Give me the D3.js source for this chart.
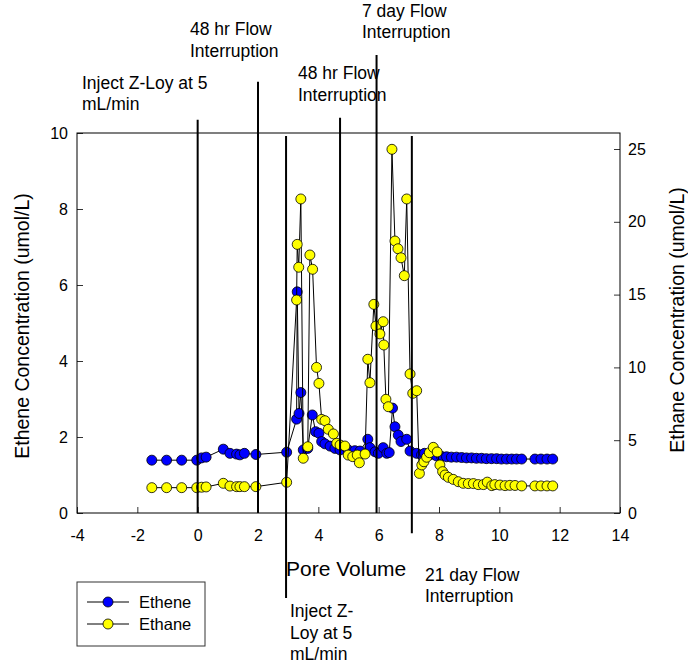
<!DOCTYPE html>
<html>
<head>
<meta charset="utf-8">
<script src="https://cdn.jsdelivr.net/npm/d3@7"></script>
<style>
  body { margin: 0; background: #fff; }
  text { font-family: "Liberation Sans", Arial, sans-serif; }
</style>
</head>
<body>
<div id="chart"></div>
<script>
// pore volume + concentrations
const etheneX = [-1.52, -1.03, -0.53, -0.03, 0.13, 0.28, 0.85, 1.07, 1.29, 1.40, 1.55, 1.93, 2.95,
  3.28, 3.30, 3.36, 3.42, 3.50, 3.65, 3.80, 3.91, 4.02, 4.11, 4.22, 4.39, 4.55, 4.72, 4.99, 5.21, 5.38,
  5.64, 5.71, 5.88, 5.99, 6.15, 6.27, 6.35, 6.46, 6.54, 6.65, 6.74, 6.93, 7.04, 7.26, 7.42, 7.52, 7.70,
  7.92, 8.08, 8.25, 8.41, 8.58, 8.75, 8.91, 9.08, 9.24, 9.41, 9.57, 9.74, 9.91, 10.07, 10.24, 10.41, 10.57, 10.74,
  11.18, 11.38, 11.58, 11.77];
const etheneY = [1.39, 1.39, 1.39, 1.39, 1.45, 1.47, 1.68, 1.57, 1.55, 1.53, 1.57, 1.54, 1.60,
  2.47, 5.82, 2.62, 3.17, 1.66, 1.70, 2.58, 2.14, 2.10, 1.88, 1.82, 1.76, 1.70, 1.66, 1.66, 1.64, 1.63,
  1.94, 1.72, 1.61, 1.57, 1.72, 1.57, 1.59, 2.76, 2.27, 2.05, 1.88, 1.94, 1.63, 1.57, 1.53, 1.57, 1.53,
  1.50, 1.49, 1.48, 1.47, 1.47, 1.46, 1.45, 1.45, 1.44, 1.44, 1.43, 1.43, 1.43, 1.42, 1.42, 1.42, 1.42, 1.42,
  1.42, 1.42, 1.42, 1.42];

const ethaneX = [-1.52, -1.03, -0.53, -0.03, 0.13, 0.28, 0.85, 1.07, 1.29, 1.40, 1.55, 1.93, 2.95,
  3.28, 3.30, 3.35, 3.42, 3.50, 3.65, 3.72, 3.81, 3.94, 4.02, 4.11, 4.22, 4.33, 4.50, 4.61, 4.72, 4.88,
  4.99, 5.14, 5.29, 5.36, 5.55, 5.64, 5.71, 5.84, 5.91, 6.04, 6.15, 6.17, 6.24, 6.32, 6.44, 6.54, 6.64,
  6.74, 6.85, 6.93, 7.04, 7.13, 7.26, 7.35, 7.43, 7.50, 7.59, 7.68, 7.81, 7.94, 8.03, 8.12, 8.20, 8.31,
  8.47, 8.64, 8.80, 8.97, 9.14, 9.30, 9.47, 9.60, 9.75, 9.85, 10.02, 10.19, 10.35, 10.52, 10.74,
  11.18, 11.38, 11.58, 11.77];
const ethaneY = [1.74, 1.74, 1.74, 1.74, 1.77, 1.79, 2.04, 1.85, 1.81, 1.81, 1.81, 1.81, 2.11,
  14.63, 18.45, 16.88, 21.57, 3.76, 4.55, 17.72, 16.74, 10.0, 8.9, 6.43, 6.34, 5.75, 5.43, 4.79, 4.67, 4.60,
  3.98, 3.87, 3.98, 3.45, 4.05, 10.56, 8.95, 14.33, 12.84, 12.3, 13.14, 11.54, 7.81, 7.30, 24.98, 18.68, 18.15,
  17.53, 16.3, 21.57, 9.55, 8.22, 8.4, 2.72, 3.30, 3.52, 3.83, 4.14, 4.51, 4.19, 3.30, 2.84, 2.61, 2.45,
  2.31, 2.15, 2.04, 2.02, 2.02, 1.95, 1.95, 2.12, 1.88, 1.95, 1.92, 1.88, 1.90, 1.89, 1.86,
  1.86, 1.86, 1.86, 1.86];

const xTicks = [-4, -2, 0, 2, 4, 6, 8, 10, 12, 14];
const leftTicks = [0, 2, 4, 6, 8, 10];
const rightTicks = [0, 5, 10, 15, 20, 25];

// event markers (pore volume) and their labels
const eventX = [0, 2, 2.93, 4.72, 5.93, 7.1];
const eventTop = [10.35, 11.35, 9.92, 10.4, 12.05, 9.92];   // in ethene units
const eventBottom = [0, 0, -2.24, 0, 0, -0.53];
const notes = [
  { x: 82, y: 88.5, lines: ["Inject Z-Loy at 5", "mL/min"] },
  { x: 190, y: 35, lines: ["48 hr Flow", "Interruption"] },
  { x: 298, y: 79, lines: ["48 hr Flow", "Interruption"] },
  { x: 362, y: 16.5, lines: ["7 day Flow", "Interruption"] },
  { x: 425, y: 580.5, lines: ["21 day Flow", "Interruption"] },
  { x: 290, y: 617, lines: ["Inject Z-", "Loy at 5", "mL/min"] }
];

const w = 688, h = 665;
const padL = 77, padR = 620, padT = 133, padB = 513;

const svg = d3.select("#chart").append("svg")
  .attr("width", w).attr("height", h);

const x = d3.scaleLinear().domain([-4, 14]).range([padL, padR]);
const yL = d3.scaleLinear().domain([0, 10]).range([padB, padT]);
const yR = d3.scaleLinear().domain([0, 26.1]).range([padB, padT]);

// axes, ticks pointing inward; plain hyphen for negatives
const fmt = d => String(d);
const gx = svg.append("g").attr("transform", `translate(0,${padB})`)
  .call(d3.axisBottom(x).tickValues(xTicks).tickFormat(fmt).tickSize(-6).tickPadding(17));
const gl = svg.append("g").attr("transform", `translate(${padL},0)`)
  .call(d3.axisLeft(yL).tickValues(leftTicks).tickFormat(fmt).tickSize(-6).tickPadding(9));
const gr = svg.append("g").attr("transform", `translate(${padR},0)`)
  .call(d3.axisRight(yR).tickValues(rightTicks).tickFormat(fmt).tickSize(-6).tickPadding(8));
[gx, gl, gr].forEach(g => {
  g.select(".domain").remove();
  g.selectAll("text").attr("font-size", 16).attr("fill", "#000")
    .attr("font-family", '"Liberation Sans", Arial, sans-serif');
  g.selectAll("line").attr("stroke", "#333");
});

svg.append("rect")
  .attr("x", padL).attr("y", padT)
  .attr("width", padR - padL).attr("height", padB - padT)
  .attr("fill", "none").attr("stroke", "#000").attr("stroke-width", 1);

// series
const series = [
  { xs: etheneX, ys: etheneY, y: yL, fill: "#0000ff" },
  { xs: ethaneX, ys: ethaneY, y: yR, fill: "#ffff00" }
];
series.forEach(s => {
  const pts = s.xs.map((v, i) => [v, s.ys[i]]);
  svg.append("path")
    .attr("d", d3.line().x(d => x(d[0])).y(d => s.y(d[1]))(pts))
    .attr("fill", "none").attr("stroke", "#000").attr("stroke-width", 1);
  svg.append("g").selectAll("circle")
    .data(pts).enter().append("circle")
    .attr("cx", d => x(d[0])).attr("cy", d => s.y(d[1]))
    .attr("r", 5).attr("fill", s.fill)
    .attr("stroke", "#000").attr("stroke-width", 0.8);
});

// event lines
svg.append("g").selectAll("line")
  .data(eventX).enter().append("line")
  .attr("x1", d => x(d)).attr("x2", d => x(d))
  .attr("y1", (d, i) => yL(eventTop[i])).attr("y2", (d, i) => yL(eventBottom[i]))
  .attr("stroke", "#000").attr("stroke-width", 2);

notes.forEach(n => {
  const t = svg.append("text").attr("x", n.x).attr("y", n.y)
    .attr("font-size", 17.5).attr("fill", "#000");
  n.lines.forEach((l, i) => {
    t.append("tspan").attr("x", n.x).attr("dy", i ? 21.5 : 0).text(l);
  });
});

// axis titles
svg.append("text").attr("x", 286).attr("y", 576)
  .attr("font-size", 21).text("Pore Volume");
svg.append("text")
  .attr("transform", "translate(29,326) rotate(-90)")
  .attr("text-anchor", "middle").attr("font-size", 19.5)
  .text("Ethene Concentration (umol/L)");
svg.append("text")
  .attr("transform", "translate(684,320) rotate(-90)")
  .attr("text-anchor", "middle").attr("font-size", 19.5)
  .text("Ethane Concentration (umol/L)");

// legend
const legend = svg.append("g");
legend.append("rect").attr("x", 77).attr("y", 582).attr("width", 128).attr("height", 64)
  .attr("fill", "#fff").attr("stroke", "#333");
[["Ethene", "#0000ff"], ["Ethane", "#ffff00"]].forEach((e, i) => {
  const cy = 602 + i * 22;
  legend.append("line").attr("x1", 87).attr("x2", 129).attr("y1", cy).attr("y2", cy)
    .attr("stroke", "#000");
  legend.append("circle").attr("cx", 108).attr("cy", cy).attr("r", 5)
    .attr("fill", e[1]).attr("stroke", "#000").attr("stroke-width", 0.8);
  legend.append("text").attr("x", 139).attr("y", cy + 6)
    .attr("font-size", 16.5).text(e[0]);
});
</script>
</body>
</html>
